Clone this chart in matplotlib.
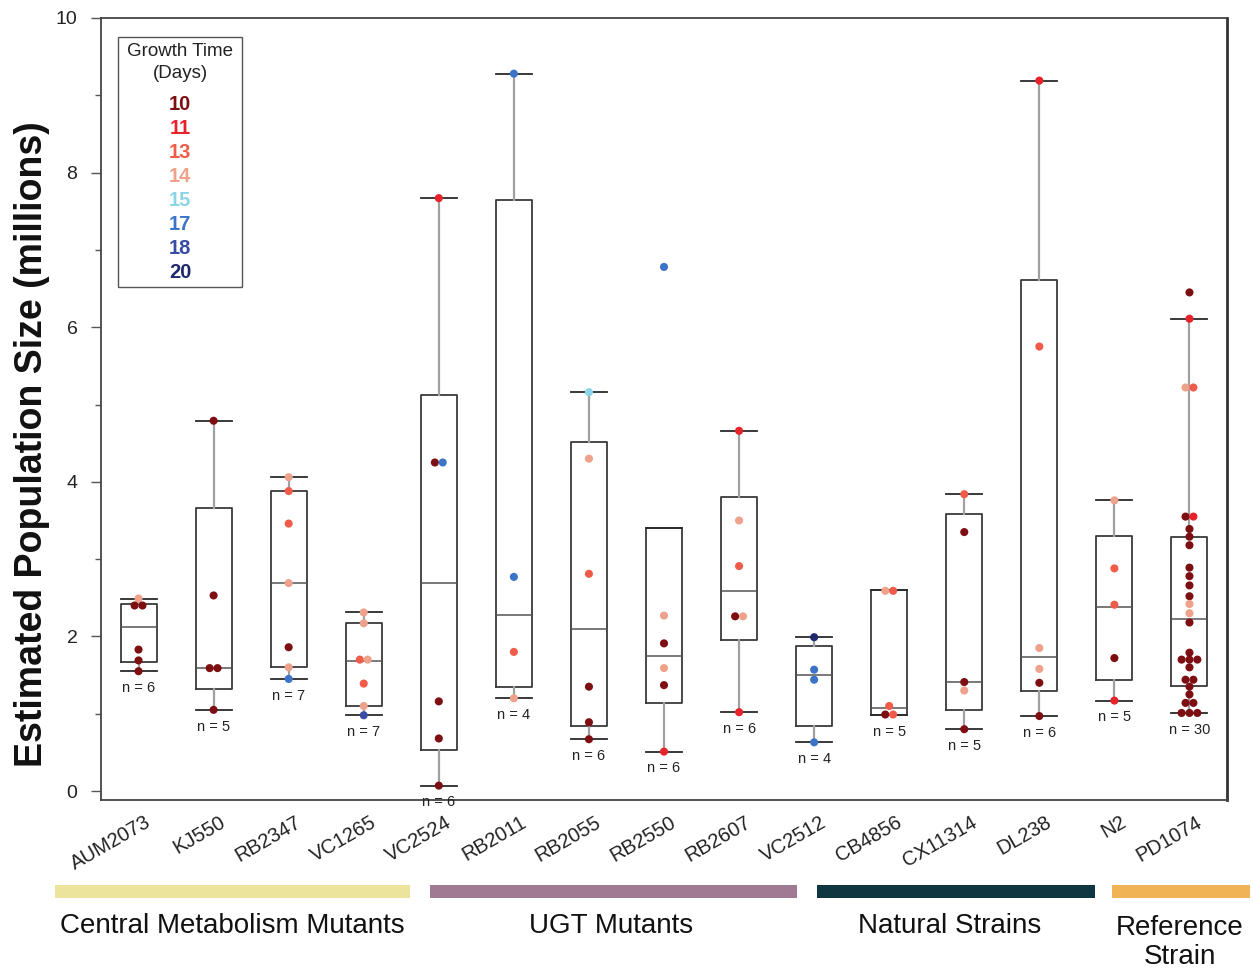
import matplotlib
matplotlib.use("Agg")
import matplotlib.pyplot as plt
from matplotlib.patches import Rectangle
from matplotlib.ticker import MultipleLocator
import matplotlib.transforms as mtransforms
import numpy as np

plt.rcParams['font.family'] = ['Liberation Sans', 'DejaVu Sans']

# ---------------- data ----------------
strains = ["AUM2073", "KJ550", "RB2347", "VC1265", "VC2524", "RB2011", "RB2055",
           "RB2550", "RB2607", "VC2512", "CB4856", "CX11314", "DL238", "N2", "PD1074"]

# estimated population sizes (millions) and growth time (days) per strain
values = {
    "AUM2073": [2.49, 2.40, 2.40, 1.83, 1.69, 1.55],
    "KJ550":   [4.79, 2.53, 1.59, 1.59, 1.05],
    "RB2347":  [4.06, 3.88, 3.46, 2.69, 1.86, 1.60, 1.45],
    "VC1265":  [2.31, 2.17, 1.70, 1.70, 1.39, 1.10, 0.98],
    "VC2524":  [7.67, 4.25, 4.25, 1.16, 0.68, 0.07],
    "RB2011":  [9.28, 2.77, 1.80, 1.20],
    "RB2055":  [5.16, 4.30, 2.81, 1.35, 0.89, 0.67],
    "RB2550":  [6.78, 2.27, 1.91, 1.59, 1.37, 0.51],
    "RB2607":  [4.66, 3.50, 2.91, 2.26, 2.26, 1.02],
    "VC2512":  [1.99, 1.57, 1.44, 0.63],
    "CB4856":  [2.59, 2.59, 1.10, 0.99, 0.99],
    "CX11314": [3.84, 3.35, 1.41, 1.30, 0.80],
    "DL238":   [9.19, 5.75, 1.85, 1.58, 1.40, 0.97],
    "N2":      [3.76, 2.88, 2.41, 1.72, 1.17],
    "PD1074":  [6.45, 6.11, 5.22, 5.22, 3.55, 3.55, 3.39, 3.29, 3.18, 2.89, 2.78, 2.66,
                2.52, 2.42, 2.30, 2.18, 1.79, 1.70, 1.70, 1.70, 1.60, 1.44, 1.44, 1.35,
                1.25, 1.14, 1.14, 1.01, 1.01, 1.01],
}
days = {
    "AUM2073": [14, 10, 10, 10, 10, 10],
    "KJ550":   [10, 10, 10, 10, 10],
    "RB2347":  [14, 13, 13, 14, 10, 14, 17],
    "VC1265":  [14, 14, 13, 14, 13, 14, 18],
    "VC2524":  [11, 10, 17, 10, 10, 10],
    "RB2011":  [17, 17, 13, 14],
    "RB2055":  [15, 14, 13, 10, 10, 10],
    "RB2550":  [17, 14, 10, 14, 10, 11],
    "RB2607":  [11, 14, 13, 10, 14, 11],
    "VC2512":  [20, 17, 17, 17],
    "CB4856":  [14, 13, 13, 10, 13],
    "CX11314": [13, 10, 10, 14, 10],
    "DL238":   [11, 13, 14, 14, 10, 10],
    "N2":      [14, 13, 13, 10, 11],
    "PD1074":  [10, 11, 14, 13, 10, 11, 10, 10, 10, 10, 10, 10,
                10, 14, 14, 10, 10, 10, 10, 10, 10, 10, 10, 10,
                10, 10, 10, 10, 10, 10],
}

# box statistics
q1     = [1.67, 1.32, 1.60, 1.10, 0.53, 1.34, 0.84, 1.14, 1.95, 0.84, 0.98, 1.05, 1.29, 1.44, 1.36]
median = [2.12, 1.59, 2.69, 1.68, 2.69, 2.28, 2.09, 1.75, 2.59, 1.50, 1.08, 1.41, 1.73, 2.38, 2.23]
q3     = [2.42, 3.66, 3.88, 2.17, 5.12, 7.64, 4.51, 3.40, 3.81, 1.88, 2.60, 3.59, 6.61, 3.30, 3.28]
whislo = [1.55, 1.05, 1.45, 0.98, 0.07, 1.20, 0.67, 0.51, 1.02, 0.63, 0.98, 0.80, 0.97, 1.17, 1.01]
whishi = [2.48, 4.79, 4.06, 2.31, 7.67, 9.28, 5.16, 3.40, 4.66, 1.99, 2.60, 3.84, 9.19, 3.76, 6.11]

legend_days = [10, 11, 13, 14, 15, 17, 18, 20]
day_colors = {10: "#7d0f12", 11: "#e8222a", 13: "#f05c49", 14: "#eea18b",
              15: "#8cd5e6", 17: "#3c74c8", 18: "#3a4da6", 20: "#1f2a6e"}

groups = ["Central Metabolism Mutants", "UGT Mutants", "Natural Strains", "Reference\nStrain"]
group_colors = ["#ece39c", "#a07a93", "#0f3641", "#f0b356"]

# ---------------- figure ----------------
W, H = 1253, 971
fig = plt.figure(figsize=(W / 100, H / 100), dpi=100)
ax = fig.add_axes([101 / W, (H - 800) / H, 1126 / W, 782 / H])

pos = np.arange(1, len(strains) + 1)
stats = []
for i, s in enumerate(strains):
    stats.append(dict(med=median[i], q1=q1[i], q3=q3[i], whislo=whislo[i],
                      whishi=whishi[i], fliers=[], label=s))
ax.bxp(stats, positions=pos, widths=0.48, showfliers=False, patch_artist=False,
       boxprops=dict(color="#3a3a3a", linewidth=1.3),
       medianprops=dict(color="#555555", linewidth=1.1),
       whiskerprops=dict(color="#a0a0a0", linewidth=1.6),
       capprops=dict(color="#2a2a2a", linewidth=1.3),
       capwidths=0.48, zorder=2)

# points with small horizontal spread for equal values
for i, s in enumerate(strains):
    v = np.array(values[s])
    d = days[s]
    xs = np.full(len(v), float(pos[i]))
    for val in np.unique(v):
        idx = np.where(v == val)[0]
        k = len(idx)
        for j, ii in enumerate(idx):
            xs[ii] += (j - (k - 1) / 2) * 0.105
    ax.scatter(xs, v, s=34, c=[day_colors[x] for x in d], zorder=4, linewidths=0)
    # n label
    ax.annotate(f"n = {len(v)}", (pos[i], whislo[i]), xytext=(0, -12),
                textcoords="offset points", ha="center", va="center",
                fontsize=10.5, color="#222222", zorder=5)

ax.set_xlim(0.5, len(strains) + 0.5)
ax.set_ylim(-0.116, 10)
ax.yaxis.set_major_locator(MultipleLocator(2))
ax.yaxis.set_minor_locator(MultipleLocator(1))
ax.tick_params(axis="y", which="major", length=7, width=1.0, color="#555555",
               labelsize=14, labelcolor="#222222", pad=10)
ax.tick_params(axis="y", which="minor", length=4, width=1.0, color="#555555")
ax.set_xticks(pos)
ax.set_xticklabels(strains, rotation=30, ha="right", rotation_mode="anchor",
                   fontsize=14.5, color="#222222")
ax.tick_params(axis="x", length=0, pad=9)
offset = mtransforms.ScaledTranslation(6 / 100, 0, fig.dpi_scale_trans)
for lab in ax.get_xticklabels():
    lab.set_transform(lab.get_transform() + offset)

for side in ["left", "bottom", "top"]:
    ax.spines[side].set_color("#444444")
    ax.spines[side].set_linewidth(1.3)
ax.spines["right"].set_color("#333333")
ax.spines["right"].set_linewidth(2.0)

ax.set_ylabel("Estimated Population Size (millions)", fontsize=27, fontweight="bold",
              color="#111111")
ax.yaxis.set_label_coords(-0.045, 0.455)

# legend box (manual)
lx0, lx1 = (118 - 101) / 1126, (242 - 101) / 1126
ly1, ly0 = (800 - 37) / 782, (800 - 287) / 782
ax.add_patch(Rectangle((lx0, ly0), lx1 - lx0, ly1 - ly0, transform=ax.transAxes,
                       fill=False, edgecolor="#555555", linewidth=1.0, zorder=6))
lxc = (lx0 + lx1) / 2
ax.text(lxc, (800 - 51) / 782, "Growth Time", transform=ax.transAxes, ha="center",
        va="center", fontsize=13.5, color="#222222")
ax.text(lxc, (800 - 74) / 782, "(Days)", transform=ax.transAxes, ha="center",
        va="center", fontsize=13.5, color="#222222")
for k, dd in enumerate(legend_days):
    ax.text(lxc, (800 - (104 + 24 * k)) / 782, str(dd), transform=ax.transAxes,
            ha="center", va="center", fontsize=14.5, fontweight="bold",
            color=day_colors[dd])

# group bars and labels
bar_x = [(55, 410), (430, 797), (817, 1095), (1112, 1250)]
label_x = [232, 611, 950, 1180]
label_y = [926, 926, 926, 942]
for (x0, x1), col, g, lxp, lyp in zip(bar_x, group_colors, groups, label_x, label_y):
    fig.add_artist(Rectangle((x0 / W, (H - 898) / H), (x1 - x0) / W, 13 / H,
                             transform=fig.transFigure, color=col, linewidth=0))
    fig.text(lxp / W, (H - lyp) / H, g, ha="center", va="center",
             fontsize=20, color="#111111", linespacing=1.15)

fig.savefig("out.png", dpi=100)
